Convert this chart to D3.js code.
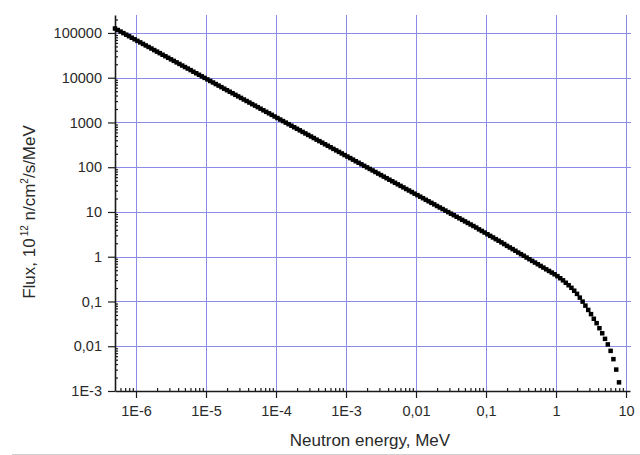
<!DOCTYPE html>
<html>
<head>
<meta charset="utf-8">
<script src="https://cdnjs.cloudflare.com/ajax/libs/d3/7.8.5/d3.min.js"></script>
<style>
  body { margin: 0; background: #fff; }
  svg { display: block; font-family: "Liberation Sans", Arial, sans-serif; }
  .grid line { stroke: #8b8be8; stroke-width: 1; shape-rendering: crispEdges; }
  .axis path, .axis line { stroke: #1a1a1a; }
  .axis path { stroke-width: 1.6; }
  .axis line { stroke-width: 1.2; }
  .axis text { fill: #2a2a2a; font-size: 14.5px; font-family: "Liberation Sans", Arial, sans-serif; }
  .title { fill: #2a2a2a; font-size: 17px; }
</style>
</head>
<body>
<div id="chart"></div>
<script>
// neutron energy, MeV (one point every 0.04 decade)
var energy = [
  5.012e-7, 5.495e-7, 6.026e-7, 6.607e-7, 7.244e-7, 7.943e-7, 8.710e-7, 9.550e-7,
  1.047e-6, 1.148e-6, 1.259e-6, 1.380e-6, 1.514e-6, 1.660e-6, 1.820e-6, 1.995e-6, 2.188e-6, 2.399e-6, 2.630e-6, 2.884e-6, 3.162e-6,
  3.467e-6, 3.802e-6, 4.169e-6, 4.571e-6, 5.012e-6, 5.495e-6, 6.026e-6, 6.607e-6, 7.244e-6, 7.943e-6, 8.710e-6, 9.550e-6,
  1.047e-5, 1.148e-5, 1.259e-5, 1.380e-5, 1.514e-5, 1.660e-5, 1.820e-5, 1.995e-5, 2.188e-5, 2.399e-5, 2.630e-5, 2.884e-5, 3.162e-5,
  3.467e-5, 3.802e-5, 4.169e-5, 4.571e-5, 5.012e-5, 5.495e-5, 6.026e-5, 6.607e-5, 7.244e-5, 7.943e-5, 8.710e-5, 9.550e-5,
  1.047e-4, 1.148e-4, 1.259e-4, 1.380e-4, 1.514e-4, 1.660e-4, 1.820e-4, 1.995e-4, 2.188e-4, 2.399e-4, 2.630e-4, 2.884e-4, 3.162e-4,
  3.467e-4, 3.802e-4, 4.169e-4, 4.571e-4, 5.012e-4, 5.495e-4, 6.026e-4, 6.607e-4, 7.244e-4, 7.943e-4, 8.710e-4, 9.550e-4,
  1.047e-3, 1.148e-3, 1.259e-3, 1.380e-3, 1.514e-3, 1.660e-3, 1.820e-3, 1.995e-3, 2.188e-3, 2.399e-3, 2.630e-3, 2.884e-3, 3.162e-3,
  3.467e-3, 3.802e-3, 4.169e-3, 4.571e-3, 5.012e-3, 5.495e-3, 6.026e-3, 6.607e-3, 7.244e-3, 7.943e-3, 8.710e-3, 9.550e-3,
  1.047e-2, 1.148e-2, 1.259e-2, 1.380e-2, 1.514e-2, 1.660e-2, 1.820e-2, 1.995e-2, 2.188e-2, 2.399e-2, 2.630e-2, 2.884e-2, 3.162e-2,
  3.467e-2, 3.802e-2, 4.169e-2, 4.571e-2, 5.012e-2, 5.495e-2, 6.026e-2, 6.607e-2, 7.244e-2, 7.943e-2, 8.710e-2, 9.550e-2,
  1.047e-1, 1.148e-1, 1.259e-1, 1.380e-1, 1.514e-1, 1.660e-1, 1.820e-1, 1.995e-1, 2.188e-1, 2.399e-1, 2.630e-1, 2.884e-1, 3.162e-1,
  3.467e-1, 3.802e-1, 4.169e-1, 4.571e-1, 5.012e-1, 5.495e-1, 6.026e-1, 6.607e-1, 7.244e-1, 7.943e-1, 8.710e-1, 9.550e-1,
  1.047, 1.148, 1.259, 1.380, 1.514, 1.660, 1.820, 1.995, 2.188, 2.399, 2.630, 2.884, 3.162,
  3.467, 3.802, 4.169, 4.571, 5.012, 5.495, 6.026, 6.607, 7.244, 7.943
];

// flux, 10^12 n/cm2/s/MeV
var flux = [
  125900, 116300, 107400, 99200, 91600, 84700, 78200, 72200, 66700, 61600, 56900, 52600, 48600, 44900, 41400,
  38300, 35400, 32600, 30200, 27900, 25700, 23800, 22000, 20300, 18700, 17300, 16000, 14800, 13600,
  12590, 11630, 10740, 9920, 9160, 8470, 7820, 7220, 6670, 6160, 5690, 5260, 4860, 4490, 4140,
  3830, 3540, 3260, 3020, 2790, 2570, 2380, 2200, 2030, 1870, 1730, 1600, 1480, 1360,
  1259, 1163, 1074, 992, 916, 847, 782, 722, 667, 616, 569, 526, 486, 449, 414,
  383, 354, 326, 302, 279, 257, 238, 220, 203, 187, 173, 160, 148, 136,
  125.9, 116.3, 107.4, 99.2, 91.6, 84.7, 78.2, 72.2, 66.7, 61.6, 56.9, 52.6, 48.6, 44.9, 41.4,
  38.3, 35.4, 32.6, 30.2, 27.9, 25.7, 23.8, 22.0, 20.3, 18.7, 17.3, 16.0, 14.8, 13.6,
  12.59, 11.63, 10.74, 9.92, 9.16, 8.47, 7.82, 7.22, 6.67, 6.16, 5.69, 5.26, 4.86, 4.49,
  4.09, 3.77, 3.47, 3.18, 2.93, 2.70, 2.47, 2.28, 2.09, 1.92, 1.75, 1.61, 1.48, 1.36, 1.24,
  1.14, 1.05, 0.959, 0.880, 0.807, 0.741, 0.680, 0.623, 0.572, 0.524,
  0.481, 0.442, 0.405, 0.368, 0.331, 0.297, 0.262, 0.231, 0.202, 0.174,
  0.148, 0.122, 0.0994, 0.0808, 0.0648, 0.0522, 0.0411, 0.0328, 0.0253, 0.0195,
  0.01464, 0.01099, 0.00788, 0.00515, 0.00301, 0.00156
];

var xTickValues = [1e-6, 1e-5, 1e-4, 1e-3, 1e-2, 1e-1, 1, 10],
    xTickLabels = ["1E-6", "1E-5", "1E-4", "1E-3", "0,01", "0,1", "1", "10"];

var yTickValues = [1e-3, 1e-2, 1e-1, 1, 10, 100, 1000, 1e4, 1e5],
    yTickLabels = ["1E-3", "0,01", "0,1", "1", "10", "100", "1000", "10000", "100000"];

var width = 640, height = 455,
    margin = {top: 15, right: 10, bottom: 64, left: 115},
    plotW = width - margin.left - margin.right,
    plotH = height - margin.top - margin.bottom;

var svg = d3.select("#chart").append("svg")
    .attr("width", width)
    .attr("height", height);

svg.append("rect")
    .attr("width", width)
    .attr("height", height)
    .attr("fill", "#fff");

var g = svg.append("g")
    .attr("transform", "translate(" + margin.left + "," + margin.top + ")");

var x = d3.scaleLog().domain([5.012e-7, 11.4]).range([0, plotW]),
    y = d3.scaleLog().domain([1e-3, 2.52e5]).range([plotH, 0]);

// minor tick values 2..9 of every decade inside the domain
function minorTicks(scale) {
  var dom = scale.domain(), out = [];
  for (var p = Math.floor(Math.log10(dom[0])); p <= Math.ceil(Math.log10(dom[1])); p++) {
    for (var m = 2; m <= 9; m++) {
      var v = m * Math.pow(10, p);
      if (v >= dom[0] && v <= dom[1]) out.push(v);
    }
  }
  return out;
}

// grid
var grid = g.append("g").attr("class", "grid");
grid.selectAll(".vgrid")
    .data(xTickValues)
  .enter().append("line")
    .attr("class", "vgrid")
    .attr("x1", function(d) { return Math.round(x(d)) + 0.5; })
    .attr("x2", function(d) { return Math.round(x(d)) + 0.5; })
    .attr("y1", 0)
    .attr("y2", plotH);
grid.selectAll(".hgrid")
    .data(yTickValues.slice(1))
  .enter().append("line")
    .attr("class", "hgrid")
    .attr("y1", function(d) { return Math.round(y(d)) + 0.5; })
    .attr("y2", function(d) { return Math.round(y(d)) + 0.5; })
    .attr("x1", 0)
    .attr("x2", plotW + 1);

// minor ticks (inside)
g.append("g")
    .attr("class", "axis")
    .attr("transform", "translate(0," + plotH + ")")
    .call(d3.axisBottom(x).tickValues(minorTicks(x)).tickSize(-3).tickFormat(""))
    .select(".domain").remove();
g.append("g")
    .attr("class", "axis")
    .call(d3.axisLeft(y).tickValues(minorTicks(y)).tickSize(-3).tickFormat(""))
    .select(".domain").remove();

// major axes
g.append("g")
    .attr("class", "axis axis--x")
    .attr("transform", "translate(0," + plotH + ")")
    .call(d3.axisBottom(x)
      .tickValues(xTickValues)
      .tickFormat(function(d, i) { return xTickLabels[i]; })
      .tickSizeInner(7)
      .tickSizeOuter(0)
      .tickPadding(8));

g.append("g")
    .attr("class", "axis axis--y")
    .call(d3.axisLeft(y)
      .tickValues(yTickValues)
      .tickFormat(function(d, i) { return yTickLabels[i]; })
      .tickSizeInner(7)
      .tickSizeOuter(0)
      .tickPadding(6));

// data points
var points = energy.map(function(e, i) { return {energy: e, flux: flux[i]}; });
var size = 4.5;
g.selectAll(".pt")
    .data(points)
  .enter().append("rect")
    .attr("class", "pt")
    .attr("x", function(d) { return x(d.energy) - size / 2; })
    .attr("y", function(d) { return y(d.flux) - size / 2; })
    .attr("width", size)
    .attr("height", size)
    .attr("fill", "#000");

// axis titles
svg.append("text")
    .attr("class", "title")
    .attr("x", 370)
    .attr("y", 446)
    .attr("text-anchor", "middle")
    .text("Neutron energy, MeV");

var yTitle = svg.append("text")
    .attr("class", "title")
    .attr("text-anchor", "middle")
    .attr("transform", "translate(35,212) rotate(-90)");
yTitle.append("tspan").text("Flux, 10");
yTitle.append("tspan").attr("dx", 2).attr("dy", -7).style("font-size", "10px").text("12");
yTitle.append("tspan").attr("dy", 7).text(" n/cm");
yTitle.append("tspan").attr("dy", -7).style("font-size", "10px").text("2");
yTitle.append("tspan").attr("dy", 7).text("/s/MeV");

// thin rule at the bottom edge
svg.append("line")
    .attr("x1", 12).attr("x2", width)
    .attr("y1", 454.5).attr("y2", 454.5)
    .attr("stroke", "#d0d0d0")
    .attr("stroke-width", 1);
</script>
</body>
</html>
